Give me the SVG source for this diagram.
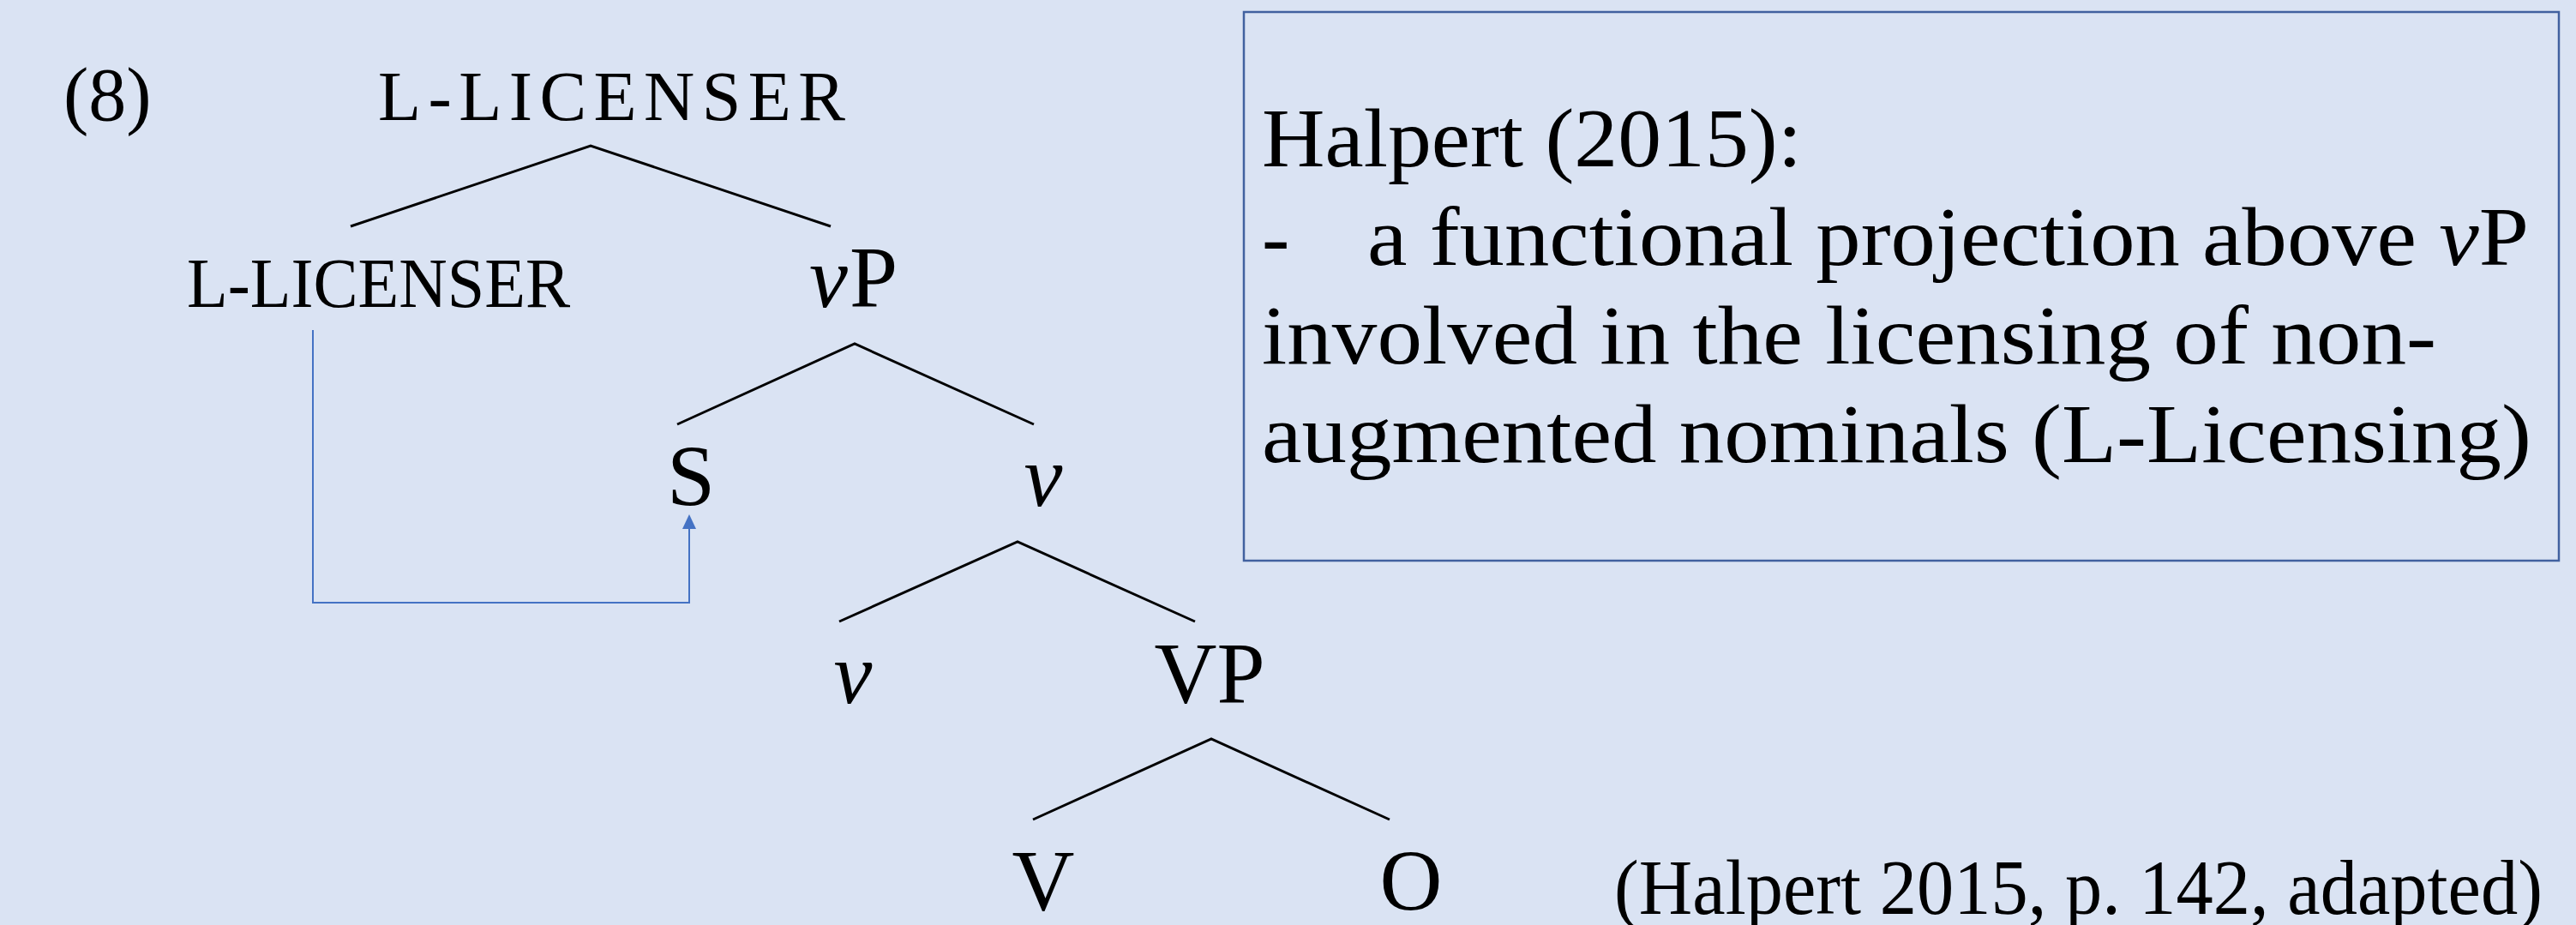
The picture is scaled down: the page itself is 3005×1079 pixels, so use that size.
<svg xmlns="http://www.w3.org/2000/svg" width="3005" height="1079" viewBox="0 0 3005 1079">
  <style>
    .lbl { font-family: "Liberation Serif", "Times New Roman", serif; fill: #000; }
    .small { font-size: 82px; }
    .big { font-size: 101px; }
    .it { font-style: italic; }
    .note { font-family: "Liberation Serif", "Times New Roman", serif; font-size: 97px; fill: #000; }
    .branch { stroke: #000; stroke-width: 3; fill: none; stroke-linecap: butt; }
    .move { stroke: #4472C4; stroke-width: 2; fill: none; }
  </style>
  <defs>
    <!-- triangular head pointing along the path direction -->
    <marker id="arrowhead" markerWidth="17" markerHeight="16" refX="3" refY="8" orient="auto" markerUnits="userSpaceOnUse" viewBox="0 0 17 16">
      <path d="M0,0 L17,8 L0,16 Z" fill="#4472C4"/>
    </marker>
  </defs>

  <rect width="3005" height="1079" fill="#DAE3F3"/>

  <!-- example number -->
  <text id="exnum" class="lbl" x="74" y="140" font-size="88">(8)</text>

  <!-- tree nodes -->
  <g id="node-llicenser-top">
    <text class="lbl small" x="441" y="140" textLength="545">L-LICENSER</text>
  </g>
  <g id="node-llicenser">
    <text class="lbl small" x="218" y="358" textLength="447" lengthAdjust="spacingAndGlyphs">L-LICENSER</text>
  </g>
  <g id="node-vP">
    <text class="lbl big it" x="944" y="358">v</text>
    <text class="lbl big" x="991" y="358">P</text>
  </g>
  <g id="node-S">
    <text class="lbl big" x="806" y="590" text-anchor="middle">S</text>
  </g>
  <g id="node-vbar">
    <text class="lbl big it" x="1217" y="590" text-anchor="middle">v</text>
  </g>
  <g id="node-v">
    <text class="lbl big it" x="995" y="820" text-anchor="middle">v</text>
  </g>
  <g id="node-VP">
    <text class="lbl big" x="1411" y="820" text-anchor="middle">VP</text>
  </g>
  <g id="node-V">
    <text class="lbl big" x="1217" y="1062" text-anchor="middle">V</text>
  </g>
  <g id="node-O">
    <text class="lbl big" x="1646" y="1062" text-anchor="middle">O</text>
  </g>

  <!-- branches and movement arrow -->
  <g id="connectors">
    <path class="branch" d="M409,264 L689,170 L969,264"/>
    <path class="branch" d="M790,495 L997,401 L1206,495"/>
    <path class="branch" d="M979,725 L1187,632 L1394,725"/>
    <path class="branch" d="M1205,956 L1413,862 L1621,956"/>
    <path class="move" d="M365,385 V703 H804 V614" marker-end="url(#arrowhead)"/>
  </g>

  <!-- explanatory box -->
  <g id="note-box">
    <rect x="1451" y="14" width="1534" height="640" fill="none" stroke="#41619F" stroke-width="2.5"/>
    <text class="note" x="1472" y="194" textLength="630" lengthAdjust="spacingAndGlyphs">Halpert (2015):</text>
    <text class="note" x="1472" y="309">-</text>
    <text class="note" x="1595" y="309" textLength="1355" lengthAdjust="spacingAndGlyphs">a functional projection above <tspan font-style="italic">v</tspan>P</text>
    <text class="note" x="1472" y="424" textLength="1370" lengthAdjust="spacingAndGlyphs">involved in the licensing of non-</text>
    <text class="note" x="1472" y="539" textLength="1481" lengthAdjust="spacingAndGlyphs">augmented nominals (L-Licensing)</text>
  </g>

  <!-- source -->
  <text id="source" class="lbl" x="1883" y="1066" font-size="92" textLength="1083" lengthAdjust="spacingAndGlyphs">(Halpert 2015, p. 142, adapted)</text>
</svg>
